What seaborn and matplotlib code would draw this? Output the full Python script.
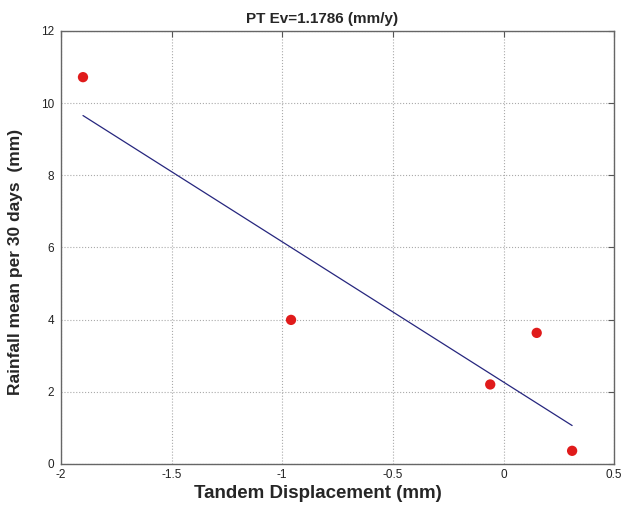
import numpy as np
import pandas as pd
import matplotlib
matplotlib.use('Agg')
import matplotlib.pyplot as plt
import seaborn as sns

# Values
displacement = [-1.90, -0.96, -0.06, 0.15, 0.31]
rainfall = [10.72, 3.99, 2.20, 3.63, 0.36]
x_ticks = [-2, -1.5, -1, -0.5, 0, 0.5]
x_tick_labels = ['-2', '-1.5', '-1', '-0.5', '0', '0.5']
y_ticks = [0, 2, 4, 6, 8, 10, 12]

data = pd.DataFrame({'Tandem displacement': displacement, 'Rainfall': rainfall})

sns.set_style('white')
plt.rcParams['font.family'] = ['Liberation Sans', 'DejaVu Sans']

fig = plt.figure(figsize=(6.21, 5.08), dpi=100)
ax = fig.add_axes([0.098, 0.087, 0.891, 0.852])

sns.regplot(data=data, x='Tandem displacement', y='Rainfall', ci=None, ax=ax,
            scatter_kws={'s': 55, 'color': '#e01b1b', 'edgecolor': 'none', 'alpha': 1, 'zorder': 3},
            line_kws={'color': '#26267e', 'lw': 0.9, 'zorder': 2})

ax.set_xlim(-2, 0.5)
ax.set_ylim(0, 12)
ax.set_xticks(x_ticks)
ax.set_xticklabels(x_tick_labels)
ax.set_yticks(y_ticks)
ax.grid(True, linestyle=':', color='#aaaaaa', lw=0.8)
ax.tick_params(direction='in', length=4, width=0.8, top=True, right=True,
               labelsize=8.5, colors='#555555', labelcolor='#222222')
ax.tick_params(axis='x', pad=4)
ax.tick_params(axis='y', pad=5)
for sp in ax.spines.values():
    sp.set_color('#666666')
    sp.set_linewidth(1.0)

ax.set_title('PT Ev=1.1786 (mm/y)', fontsize=11, fontweight='bold', x=0.472, pad=6)
ax.set_xlabel('Tandem Displacement (mm)', fontsize=13.5, fontweight='bold')
ax.set_ylabel('Rainfall mean per 30 days  (mm)', fontsize=12.5, fontweight='bold')
ax.xaxis.set_label_coords(0.465, -0.048)
ax.yaxis.set_label_coords(-0.068, 0.467)

plt.savefig('out.png', dpi=100)
